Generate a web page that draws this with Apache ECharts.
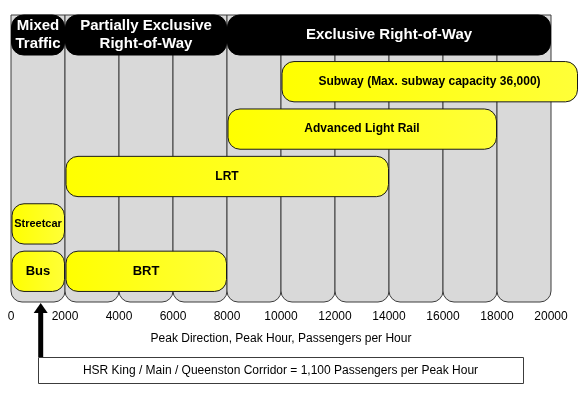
<!DOCTYPE html>
<html>
<head>
<meta charset="utf-8">
<script src="https://cdn.jsdelivr.net/npm/echarts@6/dist/echarts.min.js"></script>
<style>
html,body{margin:0;padding:0;background:#fff;}
#chart{width:586px;height:398px;}
</style>
</head>
<body>
<div id="chart"></div>
<script>
// ---- data ----
var xTicks = [0, 2000, 4000, 6000, 8000, 10000, 12000, 14000, 16000, 18000, 20000];
var columnStarts = [0, 2000, 4000, 6000, 8000, 10000, 12000, 14000, 16000, 18000];
var columnWidth = 2000;
var headerLabels = ['Mixed\nTraffic', 'Partially Exclusive\nRight-of-Way', 'Exclusive Right-of-Way'];
var headerStarts = [0, 2000, 8000];
var headerEnds = [2000, 8000, 20000];
var rows = ['Subway', 'Advanced Light Rail', 'LRT', 'Streetcar', 'Bus'];
var modeLabels = ['Subway (Max. subway capacity 36,000)', 'Advanced Light Rail', 'LRT', 'Streetcar', 'Bus', 'BRT'];
var modeRows = ['Subway', 'Advanced Light Rail', 'LRT', 'Streetcar', 'Bus', 'Bus'];
var modeStarts = [10000, 8000, 2000, 0, 0, 2000];
var modeEnds = [21000, 18000, 14000, 2000, 2000, 8000];
var corridorValue = 1100;
var corridorLabel = 'HSR King / Main / Queenston Corridor = 1,100 Passengers per Peak Hour';
var xAxisName = 'Peak Direction, Peak Hour, Passengers per Hour';

var FONT = '"Liberation Sans", Arial, sans-serif';
var chart = echarts.init(document.getElementById('chart'), null, {renderer: 'canvas'});

var modeData = modeLabels.map(function (l, i) {
  return [modeStarts[i], modeEnds[i], modeRows[i]];
});
var headerData = headerLabels.map(function (l, i) {
  return [headerStarts[i], headerEnds[i]];
});

var option = {
  backgroundColor: '#ffffff',
  animation: false,
  grid: [
    {left: 11, right: 35, top: 15, bottom: 96},
    {left: 11, right: 35, top: 58, bottom: 103}
  ],
  xAxis: [
    {
      gridIndex: 0, type: 'value', min: 0, max: 20000, interval: 2000,
      axisLine: {show: false}, axisTick: {show: false}, splitLine: {show: false},
      axisLabel: {margin: 9, color: '#000', fontSize: 12, fontFamily: FONT,
        formatter: function (v) { return String(v); }},
      name: xAxisName, nameLocation: 'middle', nameGap: 31,
      nameTextStyle: {color: '#000', fontSize: 12, fontFamily: FONT}
    },
    {
      gridIndex: 1, type: 'value', min: 0, max: 20000, interval: 2000, show: false
    }
  ],
  yAxis: [
    {gridIndex: 0, type: 'value', min: 0, max: 1, show: false},
    {gridIndex: 1, type: 'category', data: rows, inverse: true, show: false}
  ],
  series: [
    {
      type: 'custom', xAxisIndex: 0, yAxisIndex: 0, clip: false, silent: true,
      data: columnStarts.map(function (s) { return [s]; }),
      encode: {x: 0},
      renderItem: function (params, api) {
        var s = api.value(0);
        var p0 = api.coord([s, 1]);
        var p1 = api.coord([s + columnWidth, 0]);
        return {
          type: 'rect',
          shape: {x: p0[0], y: p0[1], width: p1[0] - p0[0], height: p1[1] - p0[1], r: [0, 0, 11, 11]},
          style: {fill: '#d9d9d9', stroke: '#3c3c3c', lineWidth: 1}
        };
      }
    },
    {
      type: 'custom', xAxisIndex: 0, yAxisIndex: 0, clip: false, silent: true,
      data: headerData,
      encode: {x: [0, 1]},
      renderItem: function (params, api) {
        var a = api.coord([api.value(0), 1]);
        var b = api.coord([api.value(1), 1]);
        var top = params.coordSys.y;
        return {
          type: 'group',
          children: [
            {
              type: 'rect',
              shape: {x: a[0] + 0.5, y: top, width: b[0] - a[0] - 1, height: 40, r: 12},
              style: {fill: '#000000', stroke: '#000000', lineWidth: 1}
            },
            {
              type: 'text',
              style: {
                x: (a[0] + b[0]) / 2, y: top + 20, text: headerLabels[params.dataIndex],
                fill: '#ffffff', font: 'bold 15px ' + FONT, align: 'center',
                verticalAlign: 'middle', lineHeight: 18
              }
            }
          ]
        };
      }
    },
    {
      type: 'custom', xAxisIndex: 1, yAxisIndex: 1, clip: false, silent: true,
      data: modeData,
      encode: {x: [0, 1], y: 2},
      renderItem: function (params, api) {
        var a = api.coord([api.value(0), api.value(2)]);
        var b = api.coord([api.value(1), api.value(2)]);
        var h = api.size([0, 1])[1] * 0.85;
        var label = modeLabels[params.dataIndex];
        var fs = label === 'Streetcar' ? 11 : (label === 'Bus' || label === 'BRT' ? 13 : 12);
        return {
          type: 'group',
          children: [
            {
              type: 'rect',
              shape: {x: a[0] + 1, y: a[1] - h / 2, width: b[0] - a[0] - 1.5, height: h, r: 12},
              style: {
                fill: new echarts.graphic.LinearGradient(0, 0, 1, 0, [
                  {offset: 0, color: '#ffff00'}, {offset: 1, color: '#ffff38'}
                ]),
                stroke: '#1a1a1a', lineWidth: 1
              }
            },
            {
              type: 'text',
              style: {
                x: (a[0] + b[0]) / 2, y: a[1], text: label,
                fill: '#000000', font: 'bold ' + fs + 'px ' + FONT,
                align: 'center', verticalAlign: 'middle'
              }
            }
          ]
        };
      }
    },
    {
      type: 'custom', xAxisIndex: 0, yAxisIndex: 0, clip: false, silent: true,
      data: [[corridorValue]],
      encode: {x: 0},
      renderItem: function (params, api) {
        var p = api.coord([api.value(0), 0]);
        var tipY = p[1] + 1;
        var boxTop = 357;
        var boxLeft = 38, boxRight = 523;
        return {
          type: 'group',
          children: [
            {
              type: 'rect',
              shape: {x: p[0] - 2.5, y: tipY + 9, width: 5, height: boxTop - tipY - 9},
              style: {fill: '#000'}
            },
            {
              type: 'polygon',
              shape: {points: [[p[0], tipY], [p[0] - 7, tipY + 10], [p[0] + 7, tipY + 10]]},
              style: {fill: '#000'}
            },
            {
              type: 'rect',
              shape: {x: boxLeft + 0.5, y: boxTop + 0.5, width: boxRight - boxLeft, height: 26},
              style: {fill: '#fff', stroke: '#3c3c3c', lineWidth: 1}
            },
            {
              type: 'text',
              style: {
                x: (boxLeft + boxRight) / 2, y: boxTop + 13.5, text: corridorLabel,
                fill: '#000', font: '12px ' + FONT, align: 'center', verticalAlign: 'middle'
              }
            }
          ]
        };
      }
    }
  ]
};
chart.setOption(option);
</script>
</body>
</html>
